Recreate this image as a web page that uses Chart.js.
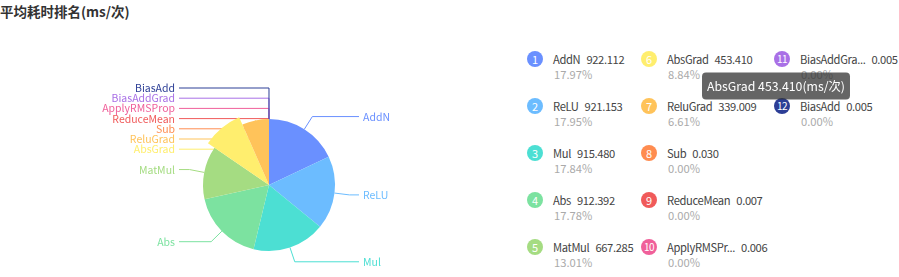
<!DOCTYPE html>
<html>
<head>
<meta charset="utf-8">
<script src="https://cdn.jsdelivr.net/npm/chart.js@4.4.0/dist/chart.umd.min.js"></script>
<style>
    html, body { margin: 0; padding: 0; background: #fff; }
    body { width: 899px; height: 277px; position: relative; overflow: hidden; font-family: "Noto Sans CJK SC", sans-serif; }
    #title { position: absolute; left: 0; top: 1px; font-size: 13.5px; line-height: 20px; font-weight: bold; color: #333; }
    #legend { position: absolute; left: 0; top: 0; width: 899px; height: 277px; z-index: 1; }
    #chart { position: absolute; left: 0; top: 0; z-index: 2; }
    .item { position: absolute; white-space: nowrap; }
    .num { position: absolute; left: 0; top: 0; width: 16px; height: 16px; border-radius: 50%; color: #fff; font-size: 11px; line-height: 16px; text-align: center; }
    .num.two { font-size: 10px; letter-spacing: -0.5px; }
    .name { position: absolute; left: 26px; top: 0; font-size: 11.2px; line-height: 16px; color: #444; letter-spacing: -0.35px; }
    .name .val { margin-left: 6px; }
    .pct { position: absolute; left: 27px; top: 15px; font-size: 11.2px; line-height: 16px; color: #aaa; }
</style>
</head>
<body>
<div id="title">平均耗时排名(ms/次)</div>
<div id="legend"></div>
<canvas id="chart" width="899" height="277"></canvas>
<script>
// 数据
const opNames = ['AddN', 'ReLU', 'Mul', 'Abs', 'MatMul', 'AbsGrad', 'ReluGrad', 'Sub', 'ReduceMean', 'ApplyRMSProp', 'BiasAddGrad', 'BiasAdd'];
const avgTimes = [922.112, 921.153, 915.480, 912.392, 667.285, 453.410, 339.009, 0.030, 0.007, 0.006, 0.005, 0.005];
const percents = ['17.97%', '17.95%', '17.84%', '17.78%', '13.01%', '8.84%', '6.61%', '0.00%', '0.00%', '0.00%', '0.00%', '0.00%'];
const unit = '(ms/次)';
const hoveredIndex = 5;

const colors = ['#6a90ff', '#6cbcff', '#4cdfd3', '#7ce2a0', '#a5dc82', '#ffee6e', '#ffc35a', '#ff8c50', '#f05a5a', '#f0609a', '#a970e6', '#2c3e96'];

// 右侧图例
const legendEl = document.getElementById('legend');
const colLeft = [527, 641, 774];
const rowTop = 51;
const rowStep = 47;

opNames.forEach((name, i) => {
    const col = Math.floor(i / 5);
    const row = i % 5;
    const shortName = name.length > 10 ? name.slice(0, 10) + '...' : name;
    const item = document.createElement('div');
    item.className = 'item';
    item.style.left = colLeft[col] + 'px';
    item.style.top = (rowTop + row * rowStep) + 'px';
    item.innerHTML = `
        <div class="num${i >= 9 ? ' two' : ''}" style="background:${colors[i]}">${i + 1}</div>
        <div class="name">${shortName}<span class="val">${avgTimes[i].toFixed(3)}</span></div>
        <div class="pct">${percents[i]}</div>
    `;
    legendEl.appendChild(item);
});

// 饼图标签布局
function layoutLabels(chart) {
    const meta = chart.getDatasetMeta(0);
    const area = chart.chartArea;
    const cx = (area.left + area.right) / 2;
    const cy = (area.top + area.bottom) / 2;
    const r = meta.data[0].outerRadius;
    const gap = 10.2;
    const topBound = area.top - 20;

    const items = meta.data.map((arc, i) => {
        const mid = (arc.startAngle + arc.endAngle) / 2;
        const cos = Math.cos(mid);
        const sin = Math.sin(mid);
        return {
            i: i,
            right: cos >= 0,
            edgeX: cx + cos * arc.outerRadius,
            edgeY: cy + sin * arc.outerRadius,
            elbowX: cx + cos * (r + 15),
            y: cy + sin * (r + 15)
        };
    });

    [true, false].forEach(side => {
        const list = items.filter(it => it.right === side).sort((a, b) => a.y - b.y);
        const blocks = [];
        list.forEach(it => {
            let b = { items: [it], p: it.y };
            while (blocks.length) {
                const prev = blocks[blocks.length - 1];
                if (prev.p + gap * prev.items.length <= b.p) break;
                blocks.pop();
                const merged = prev.items.concat(b.items);
                let s = 0;
                merged.forEach((m, j) => { s += m.y - gap * j; });
                b = { items: merged, p: s / merged.length };
            }
            blocks.push(b);
        });
        let last = -Infinity;
        blocks.forEach(b => {
            b.items.forEach((m, j) => {
                let y = b.p + gap * j;
                y = Math.max(y, topBound, last + gap);
                m.labelY = y;
                last = y;
            });
        });
    });

    return { items, cx, cy, r };
}

const pieLabels = {
    id: 'pieLabels',
    afterDatasetsUpdate(chart) {
        const arc = chart.getDatasetMeta(0).data[hoveredIndex];
        arc.outerRadius += 8;
    },
    beforeDatasetsDraw(chart) {
        const { items, cx, r } = layoutLabels(chart);
        const ctx = chart.ctx;
        ctx.save();
        ctx.lineWidth = 1;
        items.forEach(it => {
            const endX = it.right ? cx + r + 24 : cx - r - 24;
            ctx.strokeStyle = colors[it.i];
            ctx.beginPath();
            ctx.moveTo(it.edgeX, it.edgeY);
            ctx.lineTo(it.elbowX, it.labelY);
            ctx.lineTo(endX, it.labelY);
            ctx.stroke();
        });
        ctx.restore();
    },
    afterDatasetsDraw(chart) {
        const { items, cx, r } = layoutLabels(chart);
        const ctx = chart.ctx;
        ctx.save();
        ctx.font = '10.5px "Noto Sans CJK SC"';
        ctx.textBaseline = 'middle';
        items.forEach(it => {
            ctx.fillStyle = colors[it.i];
            if (it.right) {
                ctx.textAlign = 'left';
                ctx.fillText(opNames[it.i], cx + r + 28, it.labelY);
            } else {
                ctx.textAlign = 'right';
                ctx.fillText(opNames[it.i], cx - r - 28, it.labelY);
            }
        });
        ctx.restore();
    }
};

// 提示框固定在图例旁
Chart.Tooltip.positioners.legendSpot = function() {
    return { x: 776, y: 86, xAlign: 'center', yAlign: 'center' };
};

const ctx = document.getElementById('chart').getContext('2d');
const chart = new Chart(ctx, {
    type: 'pie',
    data: {
        labels: opNames,
        datasets: [{
            data: avgTimes,
            backgroundColor: colors,
            borderWidth: 0,
            radius: 66,
            clip: false
        }]
    },
    options: {
        responsive: false,
        animation: false,
        events: [],
        layout: {
            padding: { left: 0, right: 361, top: 108, bottom: 15 }
        },
        plugins: {
            legend: { display: false },
            title: { display: false },
            tooltip: {
                position: 'legendSpot',
                backgroundColor: 'rgba(50, 50, 50, 0.75)',
                bodyColor: '#fff',
                bodyFont: { family: '"Noto Sans CJK SC"', size: 12.3 },
                padding: { left: 5, right: 5, top: 6, bottom: 6 },
                cornerRadius: 4,
                caretSize: 0,
                displayColors: false,
                callbacks: {
                    title: () => '',
                    label: (item) => `${opNames[item.dataIndex]} ${avgTimes[item.dataIndex].toFixed(3)}${unit}`
                }
            }
        }
    },
    plugins: [pieLabels]
});

chart.tooltip.setActiveElements([{ datasetIndex: 0, index: hoveredIndex }], { x: 0, y: 0 });
chart.draw();
</script>
</body>
</html>
